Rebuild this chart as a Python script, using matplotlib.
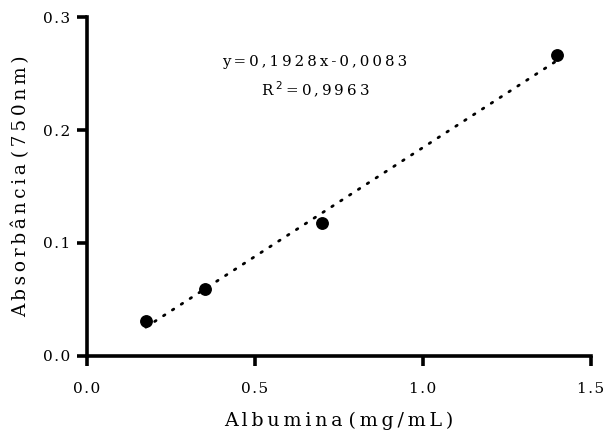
import matplotlib
matplotlib.use("Agg")
import matplotlib.pyplot as plt
import numpy as np

# Standard curve data
concentration = [0.175, 0.35, 0.7, 1.4]          # mg/mL
absorbance = [0.031, 0.059, 0.118, 0.266]        # 750 nm
slope = 0.1928
intercept = -0.0083
r_squared = "0,9963"

x_ticks = [0.0, 0.5, 1.0, 1.5]
x_tick_labels = ["0.0", "0.5", "1.0", "1.5"]
y_ticks = [0.0, 0.1, 0.2, 0.3]
y_tick_labels = ["0.0", "0.1", "0.2", "0.3"]

plt.rcParams["font.family"] = ["DejaVu Serif"]

THIN = "\u2009"
HAIR = "\u200a"


def tracked(s, gap=THIN):
    """Widen letter spacing by placing a narrow space between characters."""
    return gap.join(s)


fig = plt.figure(figsize=(6.03, 4.32), dpi=100)
ax = fig.add_axes([0.1443, 0.176, 0.8357, 0.7846])

# Linear fit line over the range of the standards
xf = np.linspace(min(concentration), max(concentration), 50)
ax.plot(xf, slope * xf + intercept, linestyle=(0, (0.6, 3.2)), color="black",
        linewidth=2.0, dash_capstyle="round", zorder=2)
ax.scatter(concentration, absorbance, s=68, color="black", zorder=3)

ax.set_xlim(0, 1.5)
ax.set_ylim(0, 0.3)
ax.set_xticks(x_ticks)
ax.set_xticklabels([tracked(t, HAIR) for t in x_tick_labels])
ax.set_yticks(y_ticks)
ax.set_yticklabels([tracked(t, HAIR) for t in y_tick_labels])

for side in ("top", "right"):
    ax.spines[side].set_visible(False)
for side in ("left", "bottom"):
    ax.spines[side].set_linewidth(2.6)
ax.tick_params(axis="both", direction="out", length=7, width=2.6,
               labelsize=11, pad=12)
ax.tick_params(axis="y", pad=5)

ax.set_xlabel(tracked("Albumina") + " " + tracked("(mg/mL)"), fontsize=13.7, labelpad=11)
ax.set_ylabel(tracked("Absorbância") + " " + tracked("(750nm)"), fontsize=13.3, labelpad=9)

eq = "y=0,{:04d}x-0,{:04d}".format(int(round(slope * 10000)), int(round(-intercept * 10000)))
ax.text(0.679, 0.260, tracked(eq), ha="center", va="center", fontsize=10.8)
ax.text(0.679, 0.2355, "R" + THIN + r"$^2$" + THIN + tracked("=" + r_squared),
        ha="center", va="center", fontsize=10.8)

fig.savefig("out.png", dpi=100)
